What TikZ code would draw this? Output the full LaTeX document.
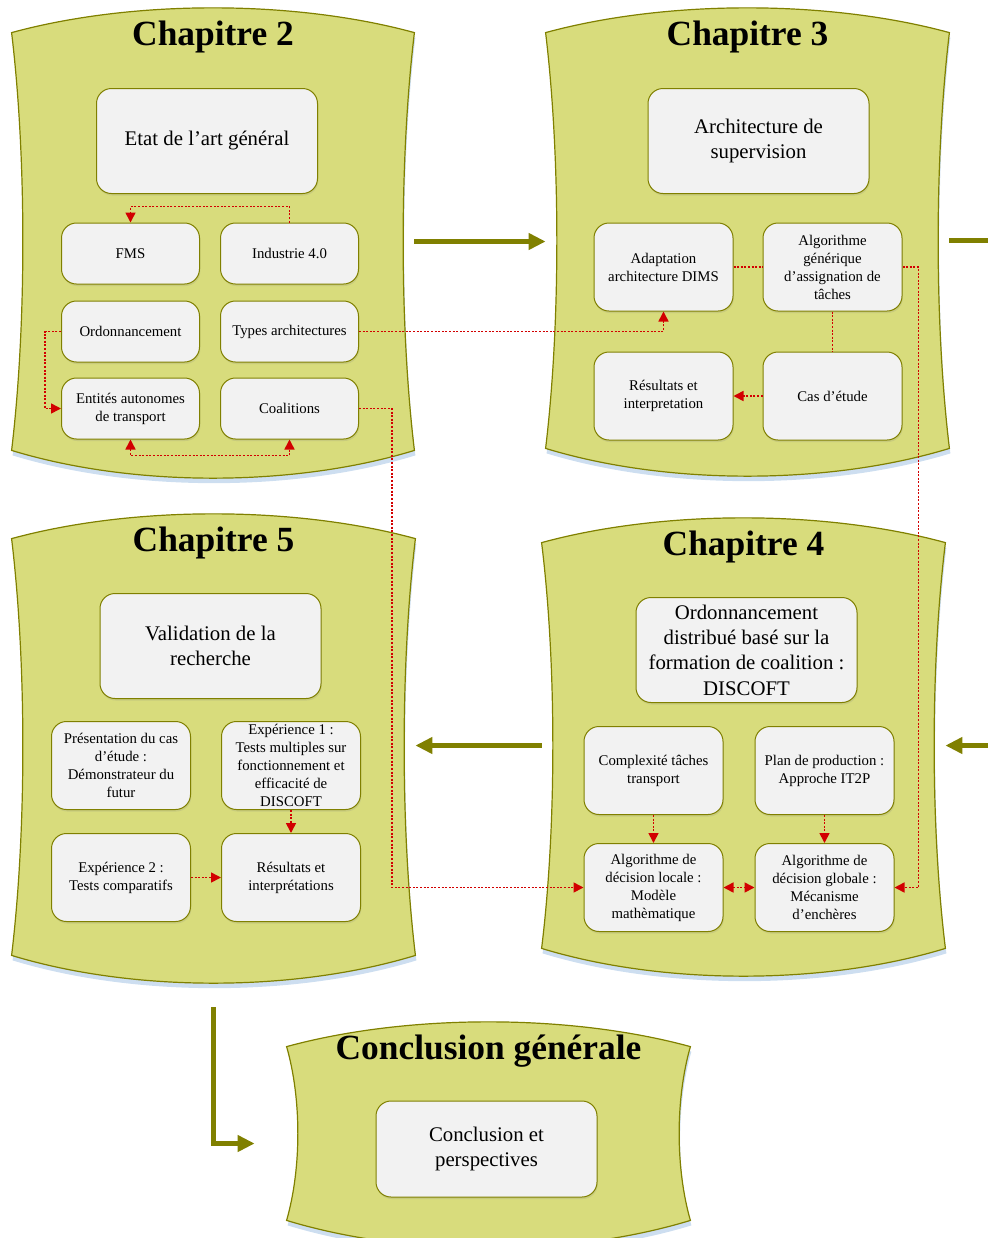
\documentclass[tikz,border=0pt]{standalone}
\usepackage{fontspec}
\setmainfont{Liberation Serif}
\usetikzlibrary{positioning,calc,fit,arrows.meta,shadows}

\definecolor{olivetrait}{RGB}{128,128,0}
\definecolor{jaunefond}{RGB}{216,220,124}
\definecolor{grisbloc}{RGB}{242,242,242}
\definecolor{rougelien}{RGB}{210,0,0}
\definecolor{ombrebleue}{RGB}{205,222,240}

\tikzset{
  bloc/.style = {rectangle, rounded corners=7.5pt, draw=olivetrait, line width=.5pt, fill=grisbloc, align=center, inner xsep=2pt, inner ysep=0pt, drop shadow={shadow xshift=.4pt, shadow yshift=-1pt, opacity=.18}},
  petit/.style = {bloc, minimum width=69pt, minimum height=30.5pt, font=\fontsize{7.4}{9}\selectfont},
  moyen/.style = {bloc, minimum width=69.5pt, minimum height=44pt, font=\fontsize{7.4}{9}\selectfont},
  grand/.style = {bloc, minimum width=110.5pt, minimum height=52.5pt, font=\fontsize{10.4}{12.7}\selectfont},
  titre/.style = {anchor=base, inner sep=0pt, font=\fontsize{17.7}{20}\selectfont\bfseries},
  fond/.style = {fill=jaunefond, draw=olivetrait, line width=.6pt},
  trait/.style = {rougelien, line width=.8pt, dash pattern=on 1pt off .8pt},
  lien/.style = {trait, -{Triangle[length=5pt,width=5pt]}},
  lienbi/.style = {trait, {Triangle[length=5pt,width=5pt]}-{Triangle[length=5pt,width=5pt]}},
  flux/.style = {olivetrait, line width=2.5pt, -{Triangle[length=8.5pt,width=8pt]}}
}

% contour d'une banniere (haut bombe, cotes creux, bas bombe)
\newcommand{\formebanniere}[1]{(#1.north west)
  .. controls ($(#1.north west)!.3!(#1.north east)+(0,33)$) and ($(#1.north west)!.7!(#1.north east)+(0,33)$) .. (#1.north east)
  .. controls ($(#1.north east)!.3!(#1.south east)+(-15,0)$) and ($(#1.north east)!.7!(#1.south east)+(-15,0)$) .. (#1.south east)
  .. controls ($(#1.south east)!.3!(#1.south west)+(0,-37)$) and ($(#1.south east)!.7!(#1.south west)+(0,-37)$) .. (#1.south west)
  .. controls ($(#1.south west)!.3!(#1.north west)+(15,0)$) and ($(#1.south west)!.7!(#1.north west)+(15,0)$) .. cycle}

% nom, gauche, haut, droite, bas, titre
\newcommand{\banniere}[6]{%
  \node[inner sep=0pt, fit={(#2,-#3) (#4,-#5)}] (#1) {};
  \fill[ombrebleue, transform canvas={xshift=.5pt,yshift=-2.5pt}] \formebanniere{#1};
  \filldraw[fond] \formebanniere{#1};
  \node[titre] at ([yshift=-6.5pt]#1.north) {#6};
}

\begin{document}
\begin{tikzpicture}[x=0.5pt,y=0.5pt]
    \useasboundingbox (0,0) rectangle (987,-1238);

    \banniere{ch2}{12}{33}{414}{450}{Chapitre 2}
    \banniere{ch3}{546}{33}{949}{448}{Chapitre 3}
    \banniere{ch4}{542}{543}{945}{948}{Chapitre 4}
    \banniere{ch5}{12}{539}{415}{955}{Chapitre 5}
    \banniere{concl}{287}{1047}{690}{1220}{Conclusion générale}

    % chapitre 2
    \node [grand] (etat) at (207,-141) {Etat de l’art général};
    \node [petit] (fms) at (130.5,-253.5) {FMS};
    \node [petit, right=10pt of fms] (industrie) {Industrie 4.0};
    \node [petit, below=8pt of fms] (ordo) {Ordonnancement};
    \node [petit, right=10pt of ordo] (types) {Types architectures};
    \node [petit, below=7.5pt of ordo] (entites) {Entités autonomes\\de transport};
    \node [petit, right=10pt of entites] (coal) {Coalitions};

    % chapitre 3
    \node [grand] (archi) at (758.5,-141) {Architecture de\\supervision};
    \node [moyen] (adapt) at (663.5,-267) {Adaptation\\architecture DIMS};
    \node [moyen, right=14.5pt of adapt] (algo) {Algorithme\\générique\\d’assignation de\\tâches};
    \node [moyen, below=20pt of adapt] (res) {Résultats et\\interpretation};
    \node [moyen, right=14.5pt of res] (cas) {Cas d’étude};

    % chapitre 4
    \node [grand] (discoft) at (746.5,-650) {Ordonnancement\\distribué basé sur la\\formation de coalition :\\DISCOFT};
    \node [moyen] (complex) at (653.5,-770.5) {Complexité tâches\\transport};
    \node [moyen, right=15.5pt of complex] (plan) {Plan de production :\\Approche IT2P};
    \node [moyen, below=14pt of complex] (locale) {Algorithme de\\décision locale :\\Modèle\\mathèmatique};
    \node [moyen, right=15.5pt of locale] (globale) {Algorithme de\\décision globale :\\Mécanisme\\d’enchères};

    % chapitre 5
    \node [grand] (valid) at (210.5,-646) {Validation de la\\recherche};
    \node [moyen] (pres) at (121,-765.5) {Présentation du cas\\d’étude :\\Démonstrateur du\\futur};
    \node [moyen, right=15pt of pres] (exp1) {Expérience 1 :\\Tests multiples sur\\fonctionnement et\\efficacité de\\DISCOFT};
    \node [moyen, below=11.5pt of pres] (exp2) {Expérience 2 :\\Tests comparatifs};
    \node [moyen, right=15pt of exp2] (resint) {Résultats et\\interprétations};

    % conclusion
    \node [grand, minimum height=48pt] (conclbox) at (486.5,-1149) {Conclusion et\\perspectives};

    % liens entre blocs
    \draw[lien] (industrie.north) -- ++(0,16) -| (fms.north);
    \draw[lien] (ordo.west) -- ++(-16,0) |- (entites.west);
    \draw[lienbi] (entites.south) -- ++(0,-16) -| (coal.south);
    \draw[lien] (types.east) -| (adapt.south);
    \draw[lien] (coal.east) -- ++(33,0) |- (locale.west);
    \draw[trait] (adapt.east) -- (algo.west);
    \draw[trait] (algo.south) -- (cas.north);
    \draw[lien] (cas.west) -- (res.east);
    \draw[lien] (algo.east) -- ++(16,0) |- (globale.east);
    \draw[lien] (complex.south) -- (locale.north);
    \draw[lien] (plan.south) -- (globale.north);
    \draw[lienbi] (locale.east) -- (globale.west);
    \draw[lien] (exp1.south) -- (resint.north);
    \draw[lien] (exp2.east) -- (resint.west);

    % enchainement des chapitres
    \draw[flux] (ch2.east) -- (ch2.east -| ch3.west);
    \draw[flux] (ch3.east) -- ++(60,0) |- (ch4.east);
    \draw[flux] (ch4.west) -- (ch4.west -| ch5.east);
    \draw[flux] ([yshift=-26pt]ch5.south) |- ([xshift=-16pt,yshift=-5pt]concl.west);
\end{tikzpicture}
\end{document}
